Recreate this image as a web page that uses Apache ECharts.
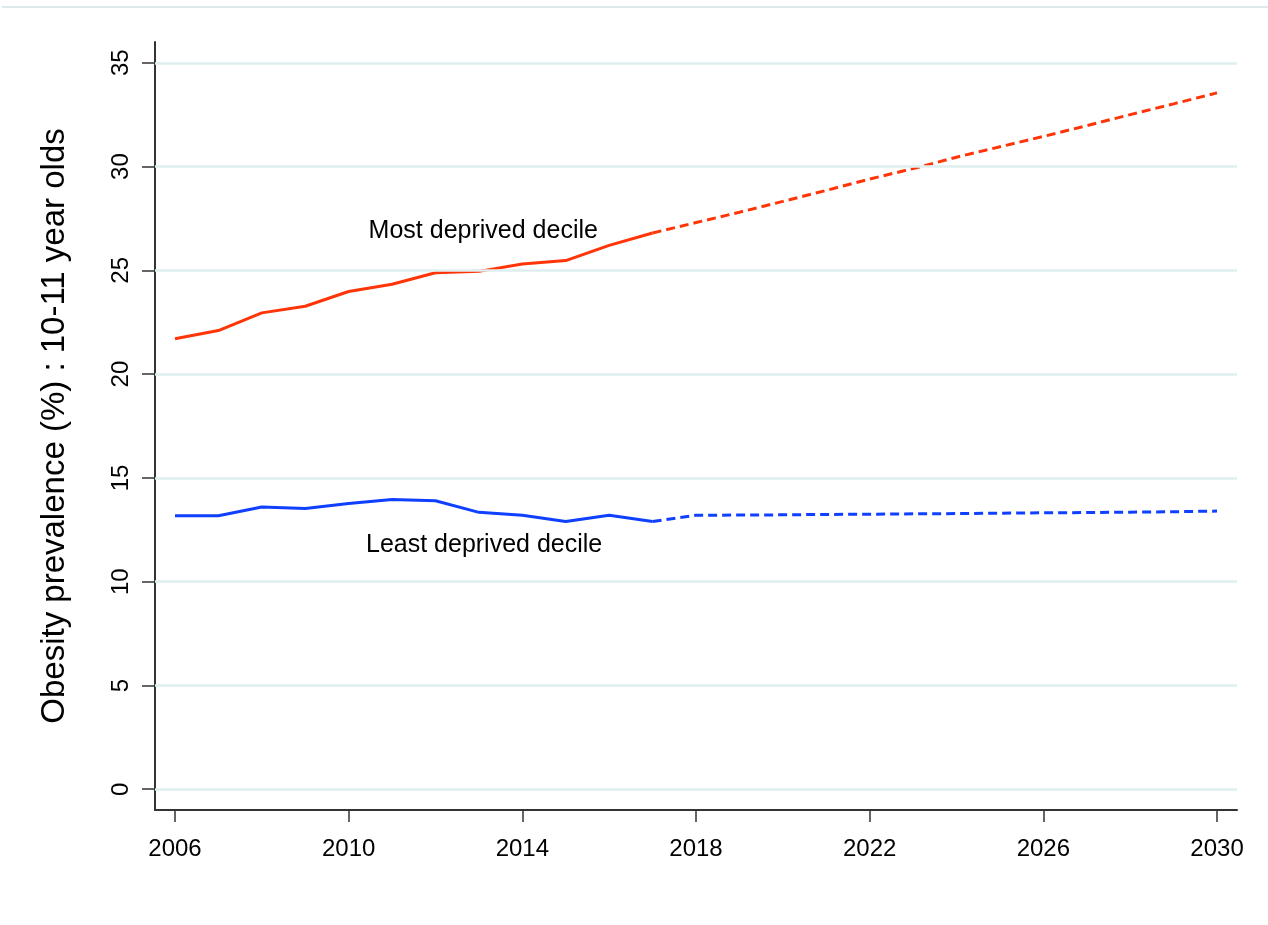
<!DOCTYPE html>
<html>
<head>
<meta charset="utf-8">
<script src="https://cdn.jsdelivr.net/npm/echarts@6/dist/echarts.min.js"></script>
<style>
html,body{margin:0;padding:0;background:#fff;}
#chart{width:1268px;height:925px;}
</style>
</head>
<body>
<div id="chart"></div>
<script>
// ---- data ----
const yearsObserved = [2006,2007,2008,2009,2010,2011,2012,2013,2014,2015,2016,2017];
const yearsProjected = [2017,2018,2019,2020,2021,2022,2023,2024,2025,2026,2027,2028,2029,2030];
const mostDeprivedObserved = [21.7,22.1,22.95,23.27,23.98,24.33,24.88,24.95,25.3,25.47,26.2,26.8];
const mostDeprivedProjected = [26.8,27.3,27.8,28.32,28.85,29.4,29.9,30.45,30.95,31.45,31.97,32.5,33.02,33.55];
const leastDeprivedObserved = [13.18,13.18,13.6,13.52,13.77,13.96,13.9,13.34,13.2,12.9,13.2,12.9];
const leastDeprivedProjected = [12.9,13.2,13.21,13.22,13.24,13.25,13.27,13.28,13.3,13.32,13.33,13.35,13.37,13.4];
const xTicks = [2006,2010,2014,2018,2022,2026,2030];
const yTicks = [0,5,10,15,20,25,30,35];
const yTitle = 'Obesity prevalence (%) : 10-11 year olds';
const labelMost = 'Most deprived decile';
const labelLeast = 'Least deprived decile';

const RED = '#ff3508';
const BLUE = '#1040ff';
const GRID = '#dfeeee';
const AXIS = '#333333';
const FONT = '"Liberation Sans", Arial, Helvetica, sans-serif';

const pairs = (xs, ys) => xs.map((x, i) => [x, ys[i]]);

const chart = echarts.init(document.getElementById('chart'), null, {renderer: 'canvas'});
chart.setOption({
  animation: false,
  backgroundColor: '#ffffff',
  textStyle: {fontFamily: FONT},
  graphic: [{
    type: 'rect', left: 2, top: 6, shape: {width: 1266, height: 2},
    style: {fill: '#dde9eb'}, silent: true
  }],
  grid: {left: 155, right: 31, top: 42, bottom: 115, containLabel: false},
  xAxis: {
    type: 'value', min: 2005.54, max: 2030.46,
    axisLine: {show: true, onZero: false, lineStyle: {color: AXIS, width: 2}},
    axisTick: {show: true, customValues: xTicks, length: 12, lineStyle: {color: AXIS, width: 1.5}},
    axisLabel: {show: true, customValues: xTicks, formatter: v => String(v), fontSize: 24, color: '#000', margin: 27, fontFamily: FONT},
    splitLine: {show: false}
  },
  yAxis: {
    type: 'value', min: -1, max: 36,
    name: yTitle, nameLocation: 'middle', nameRotate: 90, nameGap: 84,
    nameTextStyle: {fontSize: 33, color: '#000', fontFamily: FONT},
    axisLine: {show: true, onZero: false, lineStyle: {color: AXIS, width: 2}},
    axisTick: {show: true, customValues: yTicks, length: 13, lineStyle: {color: AXIS, width: 1.5}},
    axisLabel: {show: true, customValues: yTicks, formatter: v => String(v), rotate: 90, fontSize: 24, color: '#000', margin: 22, fontFamily: FONT},
    splitLine: {show: false}
  },
  series: [
    {
      type: 'line', data: [], silent: true, z: 1,
      markLine: {
        silent: true, symbol: ['none', 'none'], label: {show: false},
        lineStyle: {color: GRID, width: 2.5, type: 'solid'},
        emphasis: {disabled: true},
        data: yTicks.map(v => ({yAxis: v}))
      }
    },
    {
      type: 'line', data: pairs(yearsObserved, mostDeprivedObserved), showSymbol: false, z: 3,
      lineStyle: {color: RED, width: 3}, itemStyle: {color: RED},
      markPoint: {
        symbol: 'circle', symbolSize: 0,
        label: {show: true, position: 'inside', formatter: labelMost, fontSize: 25, color: '#000', fontFamily: FONT},
        data: [{coord: [2013.1, 26.87]}]
      }
    },
    {
      type: 'line', data: pairs(yearsProjected, mostDeprivedProjected), showSymbol: false, z: 3,
      lineStyle: {color: RED, width: 3, type: [9, 5]}, itemStyle: {color: RED}
    },
    {
      type: 'line', data: pairs(yearsObserved, leastDeprivedObserved), showSymbol: false, z: 3,
      lineStyle: {color: BLUE, width: 3}, itemStyle: {color: BLUE},
      markPoint: {
        symbol: 'circle', symbolSize: 0,
        label: {show: true, position: 'inside', formatter: labelLeast, fontSize: 25, color: '#000', fontFamily: FONT},
        data: [{coord: [2013.12, 11.78]}]
      }
    },
    {
      type: 'line', data: pairs(yearsProjected, leastDeprivedProjected), showSymbol: false, z: 3,
      lineStyle: {color: BLUE, width: 3, type: [9, 5]}, itemStyle: {color: BLUE}
    }
  ]
});
</script>
</body>
</html>
